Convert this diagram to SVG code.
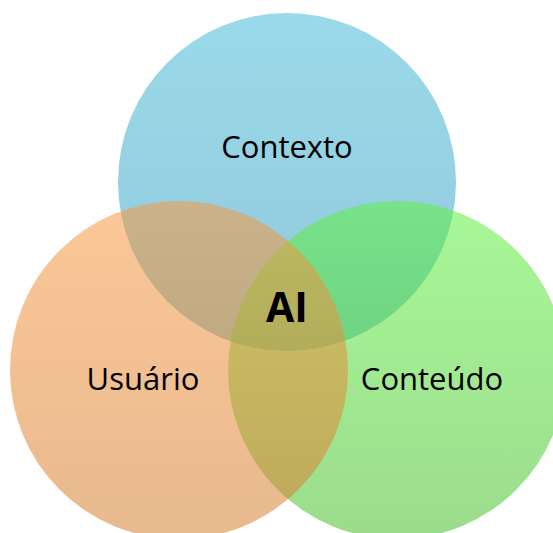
<svg xmlns="http://www.w3.org/2000/svg" width="553" height="533" viewBox="0 0 553 533">
<defs>
<linearGradient id="gb" x1="0" y1="0" x2="0" y2="1"><stop offset="0" stop-color="#48bbd8"/><stop offset="1" stop-color="#339cbc"/></linearGradient>
<linearGradient id="go" x1="0" y1="0" x2="0" y2="1"><stop offset="0" stop-color="#f89a40"/><stop offset="1" stop-color="#d57e32"/></linearGradient>
<linearGradient id="gg" x1="0" y1="0" x2="0" y2="1"><stop offset="0" stop-color="#60f242"/><stop offset="1" stop-color="#49bf2e"/></linearGradient>
<style>
.c{fill-opacity:0.55}
.t{font-family:"Open Sans","Liberation Sans",sans-serif;font-size:31px;fill:#000;text-anchor:middle}
.b{font-weight:bold;font-size:41px}
</style>
</defs>
<rect width="553" height="533" fill="#fff"/>
<g id="contexto"><circle class="c" cx="287" cy="182" r="169" fill="url(#gb)"/><text class="t" x="287" y="158">Contexto</text></g>
<g id="conteudo"><circle class="c" cx="397" cy="370" r="169" fill="url(#gg)"/><text class="t" x="432" y="390">Conteúdo</text></g>
<g id="usuario"><circle class="c" cx="179" cy="370" r="169" fill="url(#go)"/><text class="t" x="143" y="390">Usuário</text></g>
<g id="ai"><text class="t b" x="287" y="322">AI</text></g>
<g id="connectors"></g>
</svg>
